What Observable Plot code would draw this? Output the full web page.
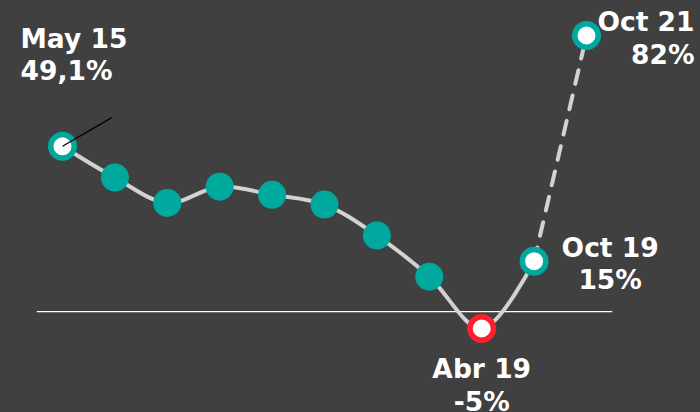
<!DOCTYPE html>
<html>
<head>
<meta charset="utf-8">
<script src="https://cdn.jsdelivr.net/npm/d3@7"></script>
<script src="https://cdn.jsdelivr.net/npm/@observablehq/plot@0.6"></script>
<style>
  html, body { margin: 0; padding: 0; background: #404040; }
  #chart { width: 700px; height: 412px; overflow: hidden; }
</style>
</head>
<body>
<div id="chart"></div>
<script>
// Data
const steps = [0, 1, 2, 3, 4, 5, 6, 7, 8, 9, 10];
const values = [49.1, 39.8, 32.3, 37.1, 34.7, 31.8, 22.6, 10.4, -5, 15, 82];
const labels = ["May 15", null, null, null, null, null, null, null, "Abr 19", "Oct 19", "Oct 21"];
const valueLabels = ["49,1%", null, null, null, null, null, null, null, "-5%", "15%", "82%"];

const data = steps.map((s, i) => ({ s, v: values[i], label: labels[i], vlabel: valueLabels[i] }));
const solid = data.slice(0, 10);
const dashed = data.slice(9, 11);
const filled = data.filter(d => d.label == null);
const hollowTeal = data.filter(d => d.label != null && d.v >= 0);
const hollowRed = data.filter(d => d.label != null && d.v < 0);
const labelled = data.filter(d => d.label != null).map(d => ({ ...d, text: d.label + "\n" + d.vlabel }));

const teal = "#00a99d";
const red = "#ff1e2d";
const lineGray = "#d2d2d2";
const font = "'DejaVu Sans', Verdana, sans-serif";

const textStyle = { fill: "#ffffff", fontSize: 26.5, fontWeight: "bold", fontFamily: font, lineAnchor: "bottom", lineHeight: 1.21 };

const chart = Plot.plot({
  width: 700,
  height: 412,
  margin: 0,
  style: { background: "#404040", overflow: "hidden" },
  x: { domain: [0, 10], range: [62, 586], axis: null },
  y: { domain: [-5, 82], range: [328, 35], axis: null },
  marks: [
    Plot.ruleY([0], { x1: -0.48, x2: 10.5, stroke: "#ffffff", strokeWidth: 1.3 }),
    Plot.line(solid, { x: "s", y: "v", curve: "catmull-rom", stroke: lineGray, strokeWidth: 4 }),
    Plot.line(dashed, { x: "s", y: "v", stroke: lineGray, strokeWidth: 4, strokeDasharray: "14,12" }),
    Plot.dot(filled, { x: "s", y: "v", r: 14, fill: teal, stroke: "none" }),
    Plot.dot(hollowTeal, { x: "s", y: "v", r: 11.75, fill: "#ffffff", stroke: teal, strokeWidth: 5.5 }),
    Plot.dot(hollowRed, { x: "s", y: "v", r: 11.75, fill: "#ffffff", stroke: red, strokeWidth: 5.5 }),
    // leader tick from the first point
    Plot.link(data.slice(0, 1), { x1: "s", y1: "v", x2: d => d.s + 0.94, y2: d => d.v + 8.5, stroke: "#000000", strokeWidth: 1.3 }),
    Plot.text(labelled.filter(d => d.label === "May 15"), { x: "s", y: "v", text: "text", textAnchor: "start", dx: -42, dy: -66, ...textStyle }),
    Plot.text(labelled.filter(d => d.label === "Oct 21"), { x: "s", y: "v", text: "text", textAnchor: "end", dx: 108, dy: 28, ...textStyle }),
    Plot.text(labelled.filter(d => d.label === "Oct 19"), { x: "s", y: "v", text: "text", textAnchor: "middle", dx: 76, dy: 28, ...textStyle }),
    Plot.text(labelled.filter(d => d.label === "Abr 19"), { x: "s", y: "v", text: "text", textAnchor: "middle", dx: 0, dy: 82, ...textStyle })
  ]
});
document.getElementById("chart").appendChild(chart);
</script>
</body>
</html>
